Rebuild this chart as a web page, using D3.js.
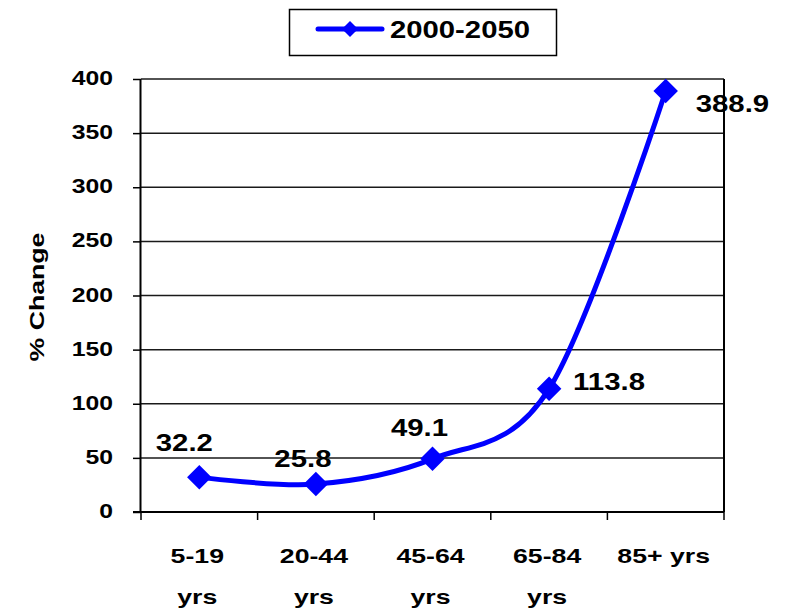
<!DOCTYPE html>
<html>
<head>
<meta charset="utf-8">
<script src="https://cdn.jsdelivr.net/npm/d3@7"></script>
<style>
  html, body { margin: 0; padding: 0; background: #fff; }
  svg { display: block; }
  text { font-family: Arial, "Liberation Sans", sans-serif; font-weight: bold; fill: #000; }
</style>
</head>
<body>
<svg id="chart" width="788" height="613"></svg>
<script>
// Projected % change in population by age group, 2000-2050
const categories = ["5-19 yrs", "20-44 yrs", "45-64 yrs", "65-84 yrs", "85+  yrs"];
const categoryLines = [["5-19", "yrs"], ["20-44", "yrs"], ["45-64", "yrs"], ["65-84", "yrs"], ["85+  yrs"]];
const values = [32.2, 25.8, 49.1, 113.8, 388.9];
const yTicks = [0, 50, 100, 150, 200, 250, 300, 350, 400];
const seriesName = "2000-2050";
const yTitle = "% Change";

const svg = d3.select("#chart");
const W = 788, H = 613;
const margin = { left: 141, right: 64, top: 79, bottom: 101 };
const plotW = W - margin.left - margin.right;
const plotH = H - margin.top - margin.bottom;
const blue = "#0000ff";
const sx = 1.27; // text is drawn horizontally widened

const x = d3.scaleBand().domain(categories).range([0, plotW]).paddingInner(0).paddingOuter(0);
const y = d3.scaleLinear().domain([0, 400]).range([plotH, 0]);

// widened text helper
function wideText(parent, tx, ty, str, size, anchor, stretch) {
  return parent.append("text")
    .attr("transform", `translate(${tx},${ty}) scale(${stretch || sx},1)`)
    .attr("text-anchor", anchor || "middle")
    .style("font-size", size + "px")
    .text(str);
}

const g = svg.append("g").attr("transform", `translate(${margin.left},${margin.top})`);

// horizontal gridlines
g.append("g").selectAll("line").data(yTicks).join("line")
  .attr("x1", 0).attr("x2", plotW)
  .attr("y1", d => y(d)).attr("y2", d => y(d))
  .attr("stroke", "#1a1a1a").attr("stroke-width", 1.5);

// right border
g.append("line").attr("x1", plotW).attr("x2", plotW).attr("y1", 0).attr("y2", plotH)
  .attr("stroke", "#000").attr("stroke-width", 2);

// y axis
const yAxis = g.append("g").call(d3.axisLeft(y).tickValues(yTicks).tickSize(8).tickFormat(""));
yAxis.select(".domain").attr("stroke", "#000").attr("stroke-width", 2).attr("d", `M-0.5,0V${plotH}`);
yAxis.selectAll(".tick line").attr("stroke", "#000").attr("stroke-width", 1.5);
yTicks.forEach(t => {
  wideText(g, -28, y(t) + 6, String(t), 19.5, "end");
});

// x axis with boundary ticks
const xAxis = g.append("g").attr("transform", `translate(0,${plotH})`)
  .call(d3.axisBottom(x).tickSize(0).tickFormat(""));
xAxis.select(".domain").attr("stroke", "#000").attr("stroke-width", 2).attr("d", `M-8,0H${plotW}`);
const bounds = categories.map(c => x(c)).concat([plotW]);
xAxis.append("g").selectAll("line").data(bounds).join("line")
  .attr("x1", d => d).attr("x2", d => d).attr("y1", 0).attr("y2", 8)
  .attr("stroke", "#000").attr("stroke-width", 1.5);

categories.forEach((c, i) => {
  const cx = x(c) + x.bandwidth() / 2;
  categoryLines[i].forEach((ln, j) => {
    wideText(g, cx - 2, plotH + 51 + j * 41, ln, 21, "middle");
  });
});

// y axis title
svg.append("text")
  .attr("transform", `translate(44,297) rotate(-90) scale(1.3,1)`)
  .attr("text-anchor", "middle")
  .style("font-size", "20.5px")
  .text(yTitle);

// smoothed series line
const pts = categories.map((c, i) => [x(c) + x.bandwidth() / 2, y(values[i])]);
g.append("path")
  .attr("d", d3.line().curve(d3.curveCatmullRom.alpha(0))(pts))
  .attr("fill", "none").attr("stroke", blue).attr("stroke-width", 5)
  .attr("stroke-linejoin", "round");

// diamond markers
const diamond = d3.symbol().type(d3.symbolSquare).size(300);
g.append("g").selectAll("path").data(pts).join("path")
  .attr("d", diamond)
  .attr("transform", d => `translate(${d[0]},${d[1]}) rotate(45)`)
  .attr("fill", blue);

// value labels
const labelOffset = [[-15, -26, "middle"], [-13, -17, "middle"], [-13, -23, "middle"], [24, 1, "start"], [30, 21, "start"]];
values.forEach((v, i) => {
  const [dx, dy, anchor] = labelOffset[i];
  wideText(g, pts[i][0] + dx, pts[i][1] + dy, v.toFixed(1), 23.5, anchor, 1.25);
});

// legend
const lg = svg.append("g");
lg.append("rect").attr("x", 289.5).attr("y", 9.5).attr("width", 267).attr("height", 46)
  .attr("fill", "#fff").attr("stroke", "#000").attr("stroke-width", 1.5);
lg.append("line").attr("x1", 318).attr("x2", 382).attr("y1", 29).attr("y2", 29)
  .attr("stroke", blue).attr("stroke-width", 5).attr("stroke-linecap", "round");
lg.append("path").attr("d", d3.symbol().type(d3.symbolSquare).size(130))
  .attr("transform", "translate(350,29) rotate(45)").attr("fill", blue);
wideText(lg, 390, 38, seriesName, 24, "start", 1.22);
</script>
</body>
</html>
